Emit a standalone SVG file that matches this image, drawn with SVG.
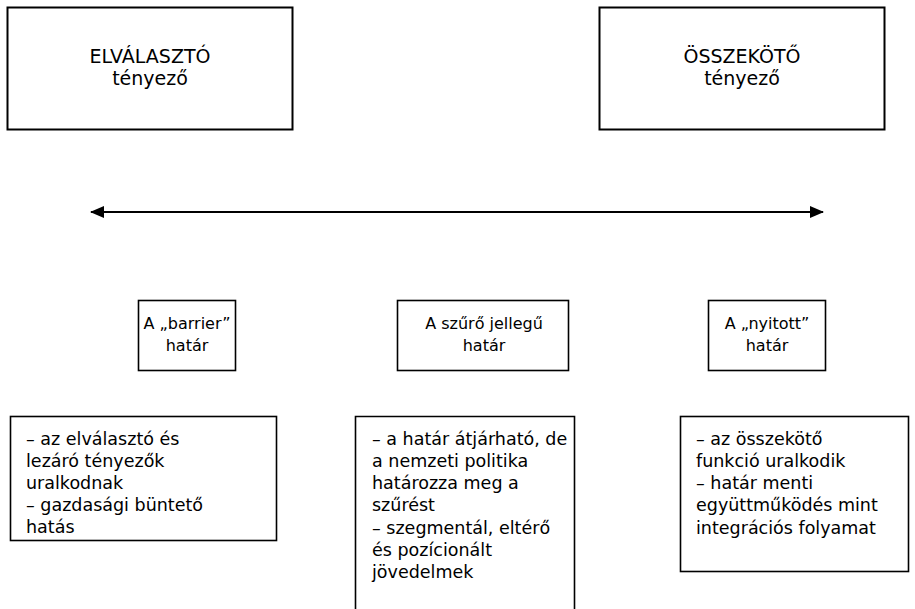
<svg xmlns="http://www.w3.org/2000/svg" width="915" height="609" viewBox="0 0 915 609">
<defs>
<style>
.box{fill:#fff;stroke:#000;stroke-width:1.6}
.top{stroke-width:2}
.t{font-family:"DejaVu Sans","Liberation Sans",sans-serif;font-size:17.5px;fill:#000}
.c{text-anchor:middle}
.mid{font-size:16px}
.big{font-size:19px}
.conn{stroke:#000;stroke-width:1.8;fill:none}
</style>
<marker id="ah" viewBox="0 0 14 12" refX="13" refY="6" markerWidth="14" markerHeight="12" markerUnits="userSpaceOnUse" orient="auto-start-reverse">
<path d="M0,0 L14,6 L0,12 Z" fill="#000"/>
</marker>
</defs>
<rect width="915" height="609" fill="#fff"/>
<g id="elvalaszto">
<rect class="box top" x="7.5" y="7.5" width="285" height="122"/>
<text class="t c big" x="150" y="63">ELVÁLASZTÓ</text>
<text class="t c big" x="150" y="85">tényező</text>
</g>
<g id="osszekoto">
<rect class="box top" x="599.5" y="7.5" width="285" height="122"/>
<text class="t c big" x="742" y="63">ÖSSZEKÖTŐ</text>
<text class="t c big" x="742" y="85">tényező</text>
</g>
<g id="connectors">
<line class="conn" x1="91" y1="212" x2="823" y2="212" marker-start="url(#ah)" marker-end="url(#ah)"/>
</g>
<g id="barrier">
<rect class="box" x="138.5" y="300.5" width="97" height="70"/>
<text class="t c mid" x="187" y="329">A „barrier”</text>
<text class="t c mid" x="187" y="351">határ</text>
</g>
<g id="szuro">
<rect class="box" x="397.5" y="300.5" width="171" height="70"/>
<text class="t c mid" x="484" y="329">A szűrő jellegű</text>
<text class="t c mid" x="484" y="351">határ</text>
</g>
<g id="nyitott">
<rect class="box" x="708.5" y="300.5" width="117" height="70"/>
<text class="t c mid" x="767" y="329">A „nyitott”</text>
<text class="t c mid" x="767" y="351">határ</text>
</g>
<g id="barrier-leiras">
<rect class="box" x="10.5" y="416.5" width="266" height="124"/>
<text class="t" x="26" y="445">– az elválasztó és</text>
<text class="t" x="26" y="467">lezáró tényezők</text>
<text class="t" x="26" y="489">uralkodnak</text>
<text class="t" x="26" y="511">– gazdasági büntető</text>
<text class="t" x="26" y="533">hatás</text>
</g>
<g id="szuro-leiras">
<path class="box" d="M355.5,612 V416.5 H574.5 V612"/>
<text class="t" x="372" y="445">– a határ átjárható, de</text>
<text class="t" x="372" y="467">a nemzeti politika</text>
<text class="t" x="372" y="489">határozza meg a</text>
<text class="t" x="372" y="511">szűrést</text>
<text class="t" x="372" y="534">– szegmentál, eltérő</text>
<text class="t" x="372" y="556">és pozícionált</text>
<text class="t" x="372" y="578">jövedelmek</text>
</g>
<g id="nyitott-leiras">
<rect class="box" x="680.5" y="416.5" width="228" height="155"/>
<text class="t" x="696" y="445">– az összekötő</text>
<text class="t" x="696" y="467">funkció uralkodik</text>
<text class="t" x="696" y="489">– határ menti</text>
<text class="t" x="696" y="511">együttműködés mint</text>
<text class="t" x="696" y="534">integrációs folyamat</text>
</g>
</svg>
